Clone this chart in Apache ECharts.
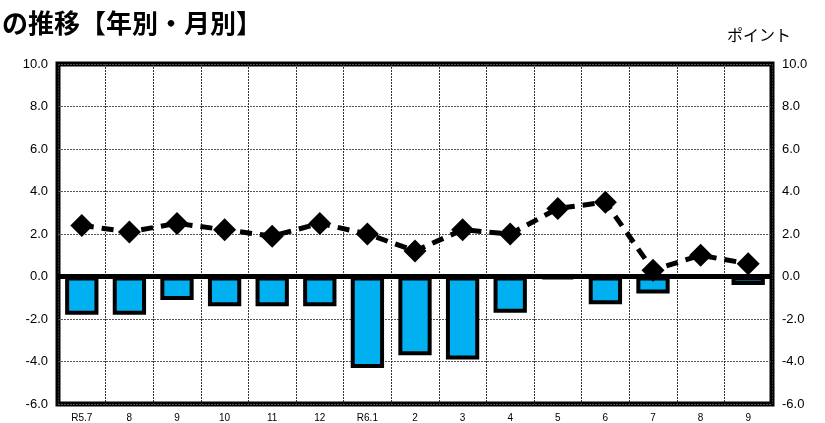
<!DOCTYPE html>
<html><head><meta charset="utf-8">
<script src="https://cdn.jsdelivr.net/npm/echarts@6/dist/echarts.min.js"></script>
<style>html,body{margin:0;padding:0;background:#fff}#c{width:825px;height:423px}</style>
</head><body><div id="c"></div>
<script>
const categories = ['R5.7','8','9','10','11','12','R6.1','2','3','4','5','6','7','8','9'];
const barValues = [-1.8,-1.8,-1.1,-1.4,-1.4,-1.4,-4.3,-3.7,-3.9,-1.7,-0.1,-1.3,-0.8,0,-0.4];
const lineValues = [2.4,2.1,2.5,2.2,1.9,2.5,2.0,1.2,2.2,2.0,3.2,3.5,0.3,1.0,0.6];
const titleText = 'の推移【年別・月別】';
const unitText = 'ポイント';

const font = '"Noto Sans CJK JP", "Noto Sans", sans-serif';
const numFont = 'Arial, "Liberation Sans", sans-serif';
const chart = echarts.init(document.getElementById('c'));
const yCommon = {
  type: 'value', min: -6, max: 10, interval: 2,
  axisLine: {show: false}, axisTick: {show: false},
  axisLabel: {formatter: v => v.toFixed(1), color: '#000', fontSize: 13, fontFamily: numFont, margin: 10}
};
chart.setOption({
  animation: false,
  title: [
    {text: titleText, left: -3, top: 5, textStyle: {fontSize: 26, fontWeight: 'bold', color: '#000', fontFamily: font}},
    {text: unitText, left: 722, top: 22, textStyle: {fontSize: 16, fontWeight: 'normal', color: '#000', fontFamily: font}}
  ],
  grid: {left: 58, right: 53, top: 64, bottom: 18, show: true, borderColor: '#000', borderWidth: 5, backgroundColor: '#fff'},
  xAxis: {
    type: 'category', data: categories, boundaryGap: true,
    axisLine: {show: false}, axisTick: {show: false},
    axisLabel: {color: '#000', fontSize: 10, fontFamily: numFont, margin: 9},
    splitLine: {show: true, lineStyle: {color: '#333', type: [2, 1], width: 1}}
  },
  yAxis: [
    Object.assign({}, yCommon, {position: 'left', splitLine: {show: true, lineStyle: {color: '#555', type: [2, 1], width: 1}}}),
    Object.assign({}, yCommon, {position: 'right', splitLine: {show: false}})
  ],
  series: [
    {
      type: 'bar', data: barValues, barWidth: '70%',
      itemStyle: {color: '#00B0F0', borderColor: '#000', borderWidth: 4},
      z: 2,
      markLine: {silent: true, symbol: 'none', label: {show: false},
        lineStyle: {color: '#000', type: 'solid', width: 5},
        data: [{yAxis: 0}]}
    },
    {
      type: 'line', data: lineValues, symbol: 'diamond', symbolSize: 23,
      itemStyle: {color: '#000'},
      lineStyle: {color: '#000', width: 5, type: [12, 8]},
      z: 3
    }
  ]
});
</script></body></html>
